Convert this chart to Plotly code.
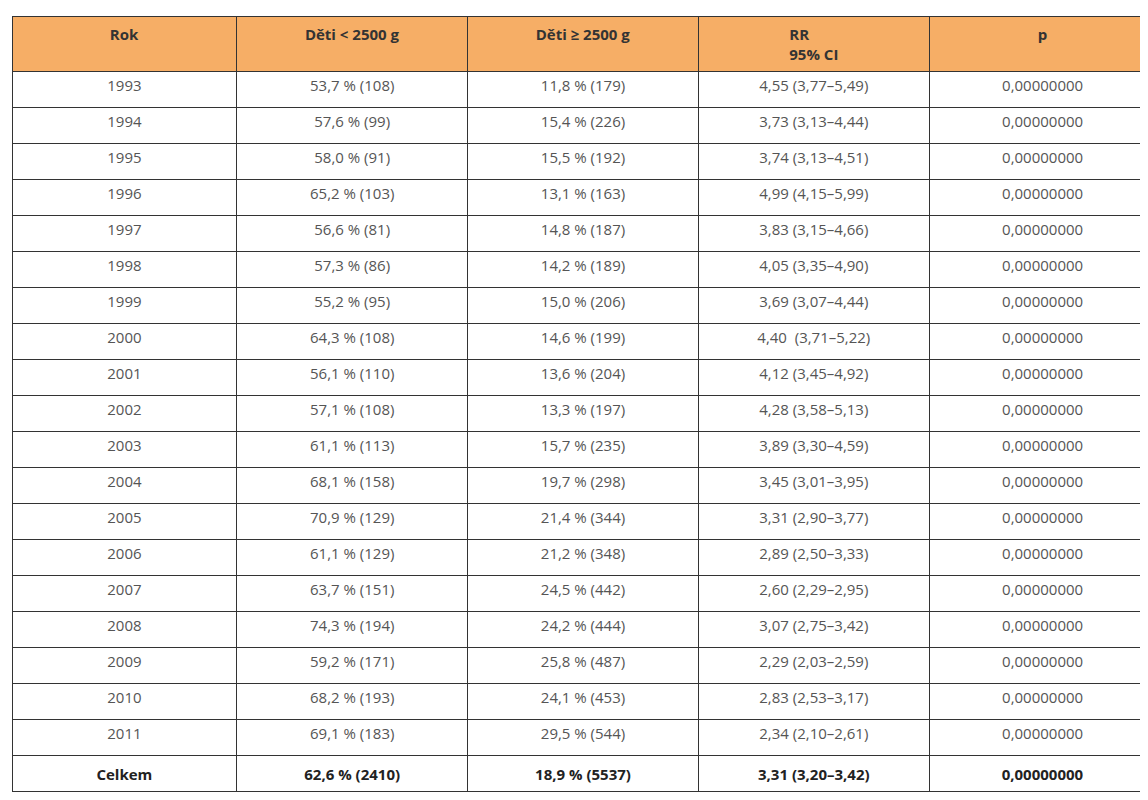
import plotly.graph_objects as go

header = ["Rok", "Děti &lt; 2500 g", "Děti ≥ 2500 g", "RR<br>95% CI", "p"]

years = ["1993", "1994", "1995", "1996", "1997", "1998", "1999", "2000", "2001", "2002",
         "2003", "2004", "2005", "2006", "2007", "2008", "2009", "2010", "2011", "Celkem"]
low_weight = ["53,7 % (108)", "57,6 % (99)", "58,0 % (91)", "65,2 % (103)", "56,6 % (81)",
              "57,3 % (86)", "55,2 % (95)", "64,3 % (108)", "56,1 % (110)", "57,1 % (108)",
              "61,1 % (113)", "68,1 % (158)", "70,9 % (129)", "61,1 % (129)", "63,7 % (151)",
              "74,3 % (194)", "59,2 % (171)", "68,2 % (193)", "69,1 % (183)", "62,6 % (2410)"]
normal_weight = ["11,8 % (179)", "15,4 % (226)", "15,5 % (192)", "13,1 % (163)", "14,8 % (187)",
                 "14,2 % (189)", "15,0 % (206)", "14,6 % (199)", "13,6 % (204)", "13,3 % (197)",
                 "15,7 % (235)", "19,7 % (298)", "21,4 % (344)", "21,2 % (348)", "24,5 % (442)",
                 "24,2 % (444)", "25,8 % (487)", "24,1 % (453)", "29,5 % (544)", "18,9 % (5537)"]
rr_ci = ["4,55 (3,77–5,49)", "3,73 (3,13–4,44)", "3,74 (3,13–4,51)", "4,99 (4,15–5,99)",
         "3,83 (3,15–4,66)", "4,05 (3,35–4,90)", "3,69 (3,07–4,44)", "4,40  (3,71–5,22)",
         "4,12 (3,45–4,92)", "4,28 (3,58–5,13)", "3,89 (3,30–4,59)", "3,45 (3,01–3,95)",
         "3,31 (2,90–3,77)", "2,89 (2,50–3,33)", "2,60 (2,29–2,95)", "3,07 (2,75–3,42)",
         "2,29 (2,03–2,59)", "2,83 (2,53–3,17)", "2,34 (2,10–2,61)", "3,31 (3,20–3,42)"]
p_vals = ["0,00000000"] * 20

def bold_last(col):
    return col[:-1] + ["<b>" + col[-1] + "</b>"]

cols = [bold_last(c) for c in [years, low_weight, normal_weight, rr_ci, p_vals]]
font_colors = [["#555555"] * 19 + ["#222222"]] * 5

fig = go.Figure(go.Table(
    columnwidth=[224, 230, 230, 230, 226],
    header=dict(
        values=["<b>" + h + "</b>" for h in header],
        fill_color="#F6AE66",
        line=dict(color="#333333", width=1),
        align="center",
        height=30,
        font=dict(family="Open Sans", size=15, color="#333333"),
    ),
    cells=dict(
        values=cols,
        fill_color="white",
        line=dict(color="#333333", width=1),
        align="center",
        height=36,
        font=dict(family="Open Sans", size=15, color=font_colors),
    ),
))

fig.update_layout(
    width=1148, height=800,
    margin=dict(l=4, r=0, t=8, b=0),
    paper_bgcolor="white",
)

fig.write_html("out.html")
